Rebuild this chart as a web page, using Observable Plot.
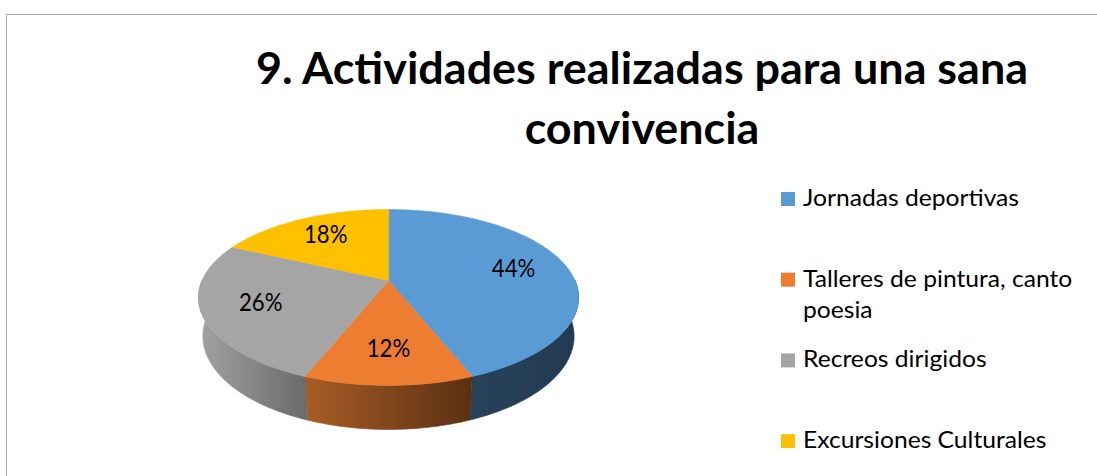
<!DOCTYPE html>
<html><head><meta charset="utf-8">
<script src="https://cdn.jsdelivr.net/npm/d3@7"></script>
<script src="https://cdn.jsdelivr.net/npm/@observablehq/plot@0.6"></script>
<style>
html,body{margin:0;padding:0;background:#fff;}
#chart{position:relative;width:1097px;height:476px;overflow:hidden;background:#fff;}
#chart > svg{position:absolute;left:0;top:0;}
#frame{position:absolute;left:6px;top:14px;width:1200px;height:600px;border-top:1.5px solid #ababab;border-left:1.5px solid #ababab;pointer-events:none;}
</style></head>
<body><div id="chart"></div>
<script>
// ---- data ----
const titleLines = ["9. Actividades realizadas para una sana", "convivencia"];
const categories = ["Jornadas deportivas", "Talleres de pintura, canto poesia", "Recreos dirigidos", "Excursiones Culturales"];
const values = [44, 12, 26, 18];
const percentLabels = ["44%", "12%", "26%", "18%"];

// ---- palette (Office) ----
const topColors = ["#5b9bd5", "#ed7d31", "#a5a5a5", "#ffc000"];
const sideColors = [["#27425b", "#223a51"], ["#a95c27", "#5a3012"], ["#a2a2a2", "#6a6a6a"], ["#c99700", "#8a6700"]];

// ---- perspective model of the 3D pie ----
const SIN_A = 0.454, COS_A = 0.891, DIST = 4.617, DEPTH = 0.2347;
function project(theta, r, z) {
  const X = r * Math.sin(theta), Y = r * Math.cos(theta);
  const den = 1 + (Y * COS_A - z * SIN_A) / DIST;
  return {x: X / den, y: (Y * SIN_A + z * COS_A) / den};
}
function arcPts(a, b, r, z) {
  const n = Math.max(2, Math.ceil((b - a) / (Math.PI / 180)) + 1);
  return d3.range(n).map(i => project(a + (b - a) * i / (n - 1), r, z));
}

const arcs = d3.pie().sort(null)(values);
const walls = [], tops = [];
arcs.forEach((d, i) => {
  const a = Math.max(d.startAngle, Math.PI / 2), b = Math.min(d.endAngle, 3 * Math.PI / 2);
  if (a < b) walls.push({i, pts: [...arcPts(a, b, 1, 0), ...arcPts(a, b, 1, -DEPTH).reverse()]});
  tops.push({i, pts: [project(0, 0, 0), ...arcPts(d.startAngle, d.endAngle, 1, 0)]});
});

// ---- font metrics (Calibri substitute: Lato, sized by cap height, narrowed to Calibri widths) ----
const ctx = document.createElement("canvas").getContext("2d");
function measure(text, weight, size, family) { ctx.font = `${weight} ${size}px ${family}`; return ctx.measureText(text).width; }
const FAM = "Lato";
const titleSize = 43, legendSize = 23.7, labelSize = 24.3;
const cTitle = 772 / measure(titleLines[0], 700, titleSize, FAM);
const cLegend = 216 / measure(categories[0], 400, legendSize, FAM);
const cLabel = 43.5 / measure(percentLabels[0], 400, labelSize, FAM);

const CX = 388, CY = 280, S = 186.5;
const plot = Plot.plot({
  width: 1097, height: 476, margin: 0,
  style: {background: "transparent", overflow: "visible"},
  x: {domain: [-1, 1], range: [CX - S, CX + S], axis: null},
  y: {domain: [-1, 1], range: [CY + S, CY - S], axis: null},
  marks: [
    ...walls.map(w => Plot.line(w.pts, {x: "x", y: "y", curve: "linear-closed", fill: `url(#side${w.i})`, stroke: `url(#side${w.i})`, strokeWidth: 0.6})),
    ...tops.map(t => Plot.line(t.pts, {x: "x", y: "y", curve: "linear-closed", fill: topColors[t.i], stroke: topColors[t.i], strokeWidth: 0.6})),
    Plot.text(arcs, {
      x: d => project((d.startAngle + d.endAngle) / 2, 0.7, 0).x,
      y: d => project((d.startAngle + d.endAngle) / 2, 0.7, 0).y,
      text: (d, i) => percentLabels[i],
      fontSize: labelSize, fontFamily: FAM, fill: "#000", textAnchor: "middle", lineAnchor: "middle"
    })
  ]
});
const defs = d3.select(plot).insert("defs", ":first-child");
sideColors.forEach((c, i) => {
  const g = defs.append("linearGradient").attr("id", `side${i}`).attr("x1", 0).attr("x2", 1).attr("y1", 0).attr("y2", 0);
  g.append("stop").attr("offset", 0).attr("stop-color", c[0]);
  g.append("stop").attr("offset", 1).attr("stop-color", c[1]);
});
d3.select(plot).selectAll('g[aria-label="text"] text').each(function () {
  const w = measure(this.textContent, 400, labelSize, FAM) * cLabel;
  d3.select(this).attr("textLength", w).attr("lengthAdjust", "spacingAndGlyphs");
});
const chart = document.getElementById("chart");
chart.appendChild(plot);

// ---- title + legend overlay ----
const over = d3.create("svg").attr("width", 1097).attr("height", 476).style("pointer-events", "none");
const TX = 642;
titleLines.forEach((t, i) => {
  over.append("text").attr("x", TX).attr("y", 84 + i * 60).attr("text-anchor", "middle")
    .attr("font-family", FAM).attr("font-weight", 700).attr("font-size", titleSize).attr("fill", "#000")
    .attr("textLength", measure(t, 700, titleSize, FAM) * cTitle).attr("lengthAdjust", "spacingAndGlyphs").text(t);
});
const LX = 781, LTX = 803, LY0 = 206, LSTEP = 80.7, SW = 14, LMAX = 280;
const legW = s => measure(s, 400, legendSize, FAM) * cLegend;
function wrap(text) {
  const words = text.split(" "), lines = [];
  let cur = "";
  for (const w of words) {
    const test = cur ? cur + " " + w : w;
    if (cur && legW(test) > LMAX) { lines.push(cur); cur = w; } else cur = test;
  }
  lines.push(cur);
  return lines;
}
categories.forEach((c, i) => {
  const by = LY0 + i * LSTEP;
  over.append("rect").attr("x", LX).attr("y", by - SW).attr("width", SW).attr("height", SW).attr("fill", topColors[i]);
  wrap(c).forEach((ln, j) => over.append("text").attr("font-family", FAM).attr("font-size", legendSize).attr("fill", "#000")
    .attr("x", LTX).attr("y", by + j * 31).attr("textLength", legW(ln)).attr("lengthAdjust", "spacingAndGlyphs").text(ln));
});
chart.appendChild(over.node());
const frame = document.createElement("div");
frame.id = "frame";
chart.appendChild(frame);
</script>
</body></html>
